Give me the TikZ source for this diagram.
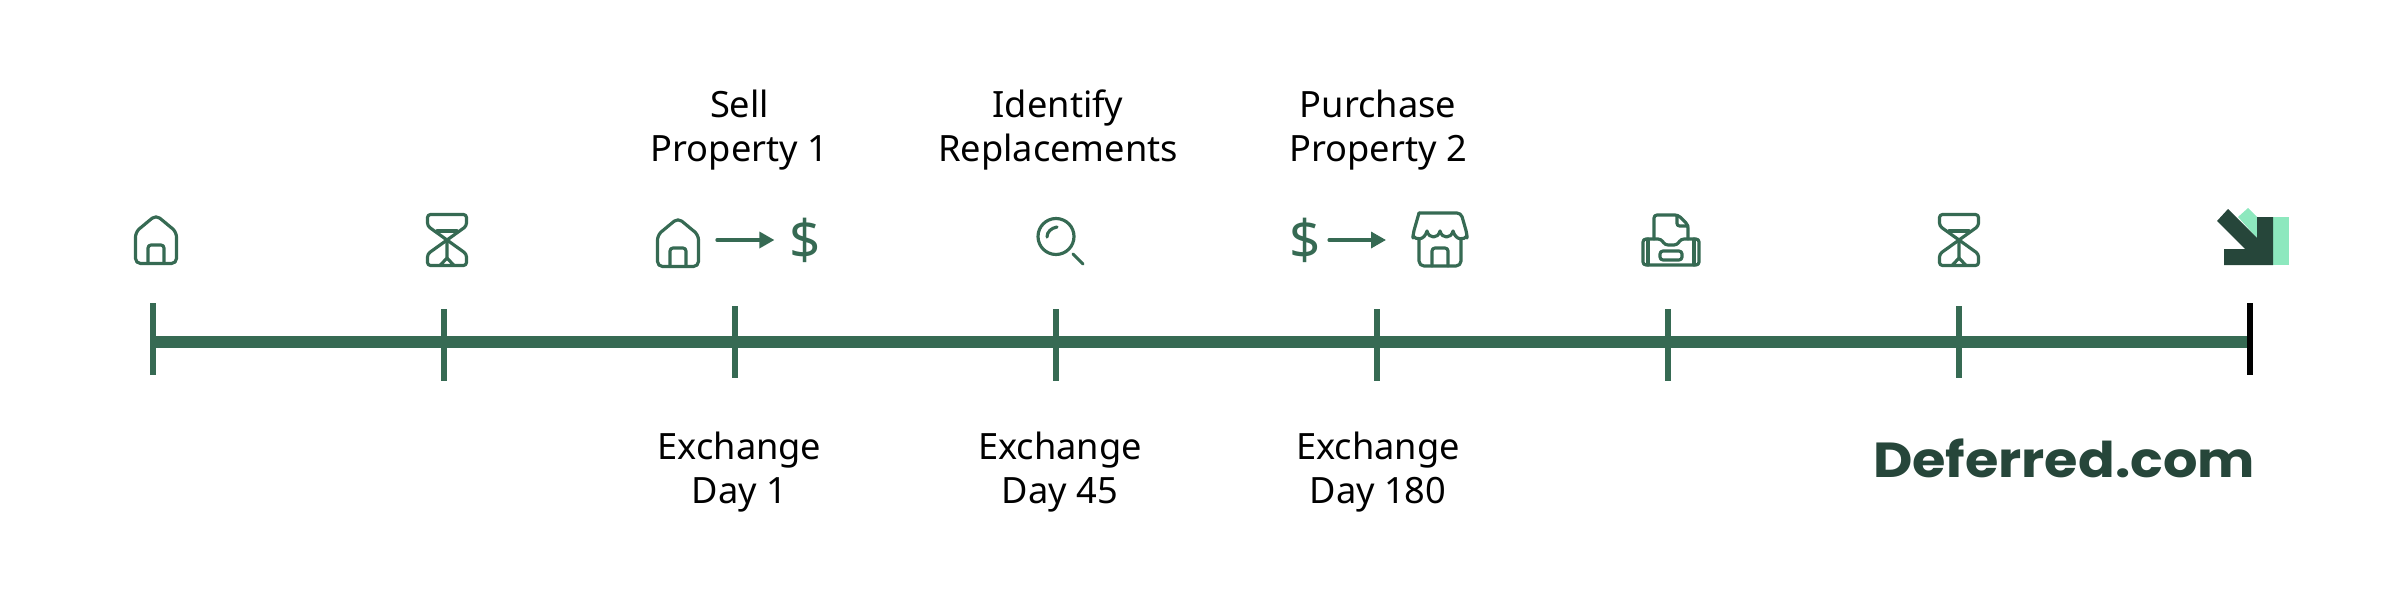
\documentclass[tikz,border=0pt]{standalone}
\usepackage{fontspec}
\setmainfont{Noto Sans}
\newfontfamily\logofont{Poppins}
\usetikzlibrary{arrows.meta,calc}
\definecolor{linegreen}{HTML}{366A53}
\definecolor{darkgreen}{HTML}{26463A}
\definecolor{lightgreen}{HTML}{8DE8BE}

\begin{document}
\begin{tikzpicture}[
    x=0.01cm, y=-0.01cm,
    timeline/.style={draw=linegreen, line width=3.27pt},
    tickbar/.style={rectangle, fill=linegreen, inner sep=0pt, outer sep=0pt, minimum width=0.06cm, minimum height=0.72cm},
    endbar/.style={tickbar, fill=black},
    caption/.style={align=center, inner sep=0pt, font=\fontsize{10.3}{12.65}\selectfont},
    money/.style={text=linegreen, inner sep=0pt, outer sep=0pt, font=\fontsize{15.5}{15.5}\selectfont},
    flow/.style={-{Triangle[length=1.5mm,width=1.6mm]}, draw=linegreen, fill=linegreen, line width=0.95pt, line cap=round},
    icon/.style={draw=linegreen, line width=0.9pt, line join=round, line cap=round},
    houseicon/.pic={
        \draw[icon, rounded corners=0.5mm] (0,-25) -- (20.5,-8) -- (20.5,23.5) -- (-20.5,23.5) -- (-20.5,-8) -- cycle;
        \draw[icon, rounded corners=0.3mm] (-8,23.5) -- (-8,5) -- (8,5) -- (8,23.5);
    },
    glassicon/.pic={
        \draw[icon, rounded corners=0.3mm] (-19.5,-25.5) -- (19.5,-25.5) -- (19.5,-14) -- (-19.5,14) -- (-19.5,25.5) -- (19.5,25.5) -- (19.5,14) -- (-19.5,-14) -- cycle;
        \draw[icon] (-10,-9) -- (10,-9);
        \draw[icon] (0,0) -- (0,18) -- (-7,25.5);
        \draw[icon] (0,18) -- (7,25.5);
    },
    lensicon/.pic={
        \draw[icon] (0,-3.5) circle [radius=18];
        \draw[icon] (-9,-3) .. controls (-9,-8) and (-5,-12) .. (1,-13);
        \draw[icon] (17,14) -- (27,24);
    },
    shopicon/.pic={
        \draw[icon, rounded corners=0.4mm] (-21,-27) -- (21,-27) -- (27,-6) -- (27,-4);
        \draw[icon, rounded corners=0.4mm] (-21,-27) -- (-27,-6) -- (-27,-4);
        \draw[icon] (-27,-4) .. controls (-24,0) and (-16,1) .. (-13,-9)
            .. controls (-11,-1) and (-2,-1) .. (0,-9)
            .. controls (2,-1) and (11,-1) .. (13,-9)
            .. controls (16,1) and (24,0) .. (27,-4);
        \draw[icon, rounded corners=0.5mm] (-21,-1) -- (-21,26) -- (21,26) -- (21,-1);
        \draw[icon, rounded corners=0.3mm] (-8,26) -- (-8,8) -- (8,8) -- (8,26);
    },
    trayicon/.pic={
        \draw[icon, rounded corners=0.3mm] (-28,-1) -- (-10,-1) -- (-6,5) -- (6,5) -- (10,-1) -- (28,-1) -- (28,25) -- (-28,25) -- cycle;
        \draw[icon] (-23,-1) -- (-23,25);
        \draw[icon] (23,-1) -- (23,25);
        \draw[icon, rounded corners=0.3mm] (-17,-1) -- (-17,-25) -- (7,-25) -- (17,-15) -- (17,-1);
        \draw[icon, rounded corners=0.25mm] (6,-24) -- (6,-14) -- (17,-14);
        \draw[icon, rounded corners=0.3mm] (-11,11) rectangle (11,20);
    }
]
\useasboundingbox (0,0) rectangle (2400,600);

% Timeline
\node[tickbar] (tick0) at (153,339) {};
\node[tickbar] (tick1) at (444,345) {};
\node[tickbar] (tick2) at (735,342) {};
\node[tickbar] (tick3) at (1056,345) {};
\node[tickbar] (tick4) at (1377,345) {};
\node[tickbar] (tick5) at (1668,345) {};
\node[tickbar] (tick6) at (1959,342) {};
\node[endbar] (tick7) at (2250,339) {};
\draw[timeline] (tick0.east |- tick2) -- (tick7.west |- tick6);

% Icons
\pic at (156,240) {houseicon};
\pic at (447,240) {glassicon};
\pic at (678,243) {houseicon};
\pic at (1056,240) {lensicon};
\pic at (1440,240) {shopicon};
\pic at (1671,240) {trayicon};
\pic at (1959,240) {glassicon};

% Sell
\coordinate (sellstart) at (717,240);
\node[money] (dollar1) at (805,240) {\$};
\draw[flow] (sellstart) -- ($(dollar1.west)+(-15,0)$);

% Purchase
\node[money] (dollar2) at (1305,240) {\$};
\coordinate (buyend) at (1386,240);
\draw[flow] ($(dollar2.east)+(8.5,0)$) -- (buyend);

% Logo
\fill[lightgreen] (2273,217) rectangle (2289,265);
\fill[lightgreen] (2238,217) -- (2248,208) -- (2257,217) -- (2257,238) -- cycle;
\fill[darkgreen] (2217,221) -- (2228,209) -- (2257,238) -- (2257,217) -- (2273,217) -- (2273,265) -- (2224,265) -- (2224,249) -- (2245,249) -- cycle;
\node[text=darkgreen, inner sep=0pt, font=\logofont\bfseries\fontsize{14}{14}\selectfont] (brand) at (2064,458) {\scalebox{1.1}[1]{Deferred.com}};

% Labels
\node[caption] (sell) at (739.5,130) {Sell\\Property 1};
\node[caption] (identify) at (1058,130) {Identify\\Replacements};
\node[caption] (purchase) at (1378,130) {Purchase\\Property 2};
\node[caption] (day1) at (739.5,472) {Exchange\\Day 1};
\node[caption] (day45) at (1060,472) {Exchange\\Day 45};
\node[caption] (day180) at (1378,472) {Exchange\\Day 180};

\end{tikzpicture}
\end{document}
